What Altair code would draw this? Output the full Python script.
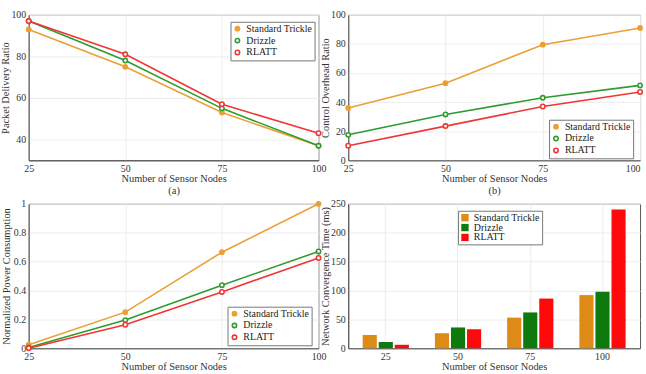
import altair as alt
import pandas as pd

series = ["Standard Trickle", "Drizzle", "RLATT"]
nodes = [25, 50, 75, 100]

pdr_st = [93, 75, 53, 37]
pdr_dr = [97, 78, 55, 37]
pdr_rl = [97, 81, 57, 43]

co_st = [36, 53, 79.5, 91]
co_dr = [17.5, 31.5, 43, 51.5]
co_rl = [10, 23.5, 37, 47]

pw_st = [0.025, 0.25, 0.665, 1.0]
pw_dr = [0.005, 0.195, 0.437, 0.67]
pw_rl = [0.0, 0.163, 0.39, 0.625]

ct_st = [23, 26, 53, 92]
ct_dr = [11, 36, 62, 98]
ct_rl = [6, 33, 86, 240]

line_colors = ["#EC9F35", "#2E9B2E", "#F03535"]
fill_colors = ["#EC9F35", "white", "white"]
bar_colors = ["#DE8A16", "#0E7A0E", "#FF0A0A"]

FONT = "Liberation Serif"


def frame(st, dr, rl):
    rows = []
    for name, vals in zip(series, [st, dr, rl]):
        for n, v in zip(nodes, vals):
            rows.append({"nodes": n, "series": name, "value": v})
    return pd.DataFrame(rows)


def mk_legend(lx, ly, sym="circle", size=None):
    kw = dict(orient="none", legendX=lx, legendY=ly, title=None, symbolType=sym,
              direction="vertical", labelFont=FONT, labelFontSize=10, labelColor="#222",
              labelFontWeight="normal",
              strokeColor="#777", fillColor="white", padding=2, rowPadding=0, labelOffset=4)
    if size is not None:
        kw["symbolSize"] = size
    return alt.Legend(**kw)


def line_panel(df, ydom, yvals, ytitle, xtitle, lx, ly, w, h, ytp=0, flush_right=False, yfmt="d"):
    leg = mk_legend(lx, ly)
    xaxis_kw = dict(values=nodes, title=xtitle, grid=True, labelFlush=False,
                    titlePadding=0, titleLineHeight=13, format="d")
    if flush_right:
        xaxis_kw["labelAlign"] = {"condition": {"test": "datum.value == 100", "value": "right"},
                                  "value": "center"}
    x = alt.X("nodes:Q", scale=alt.Scale(domain=[25, 100], nice=False),
              axis=alt.Axis(**xaxis_kw))
    y = alt.Y("value:Q", scale=alt.Scale(domain=ydom, nice=False),
              axis=alt.Axis(values=yvals, title=ytitle, grid=True, titlePadding=ytp, format=yfmt))
    color = alt.Color("series:N", sort=series,
                      scale=alt.Scale(domain=series, range=line_colors), legend=leg)
    base = alt.Chart(df)
    lines = base.mark_line(strokeWidth=1.6).encode(x=x, y=y, color=color)
    pts = base.mark_point(filled=False, opacity=1, strokeWidth=1.6).encode(
        x=x, y=y, color=color,
        fill=alt.Fill("series:N", sort=series,
                      scale=alt.Scale(domain=series, range=fill_colors), legend=leg),
        size=alt.Size("series:N", sort=series,
                      scale=alt.Scale(domain=series, range=[18, 20, 45]), legend=leg),
    )
    return alt.layer(lines, pts).properties(width=w, height=h)


pa = line_panel(frame(pdr_st, pdr_dr, pdr_rl), [30, 100], [40, 60, 80, 100],
                "Packet Delivery Ratio", ["Number of Sensor Nodes", "(a)"], 204, 7, 293, 147)
pb = line_panel(frame(co_st, co_dr, co_rl), [0, 100], [0, 20, 40, 60, 80, 100],
                "Control Overhead Ratio", ["Number of Sensor Nodes", "(b)"], 203, 106, 295, 147,
                flush_right=True)
pc = line_panel(frame(pw_st, pw_dr, pw_rl), [0, 1], [0, 0.2, 0.4, 0.6, 0.8, 1],
                "Normalized Power Consumption", "Number of Sensor Nodes", 201, 104, 293, 146,
                ytp=1.5, yfmt="~g")

dfd = frame(ct_st, ct_dr, ct_rl)
pd_ = alt.Chart(dfd).mark_bar().encode(
    x=alt.X("nodes:O", sort=nodes,
            scale=alt.Scale(paddingInner=0.36, paddingOuter=0.2),
            axis=alt.Axis(title="Number of Sensor Nodes", labelAngle=0, grid=True, titlePadding=0)),
    xOffset=alt.XOffset("series:N", sort=series, scale=alt.Scale(paddingInner=0.12, paddingOuter=0)),
    y=alt.Y("value:Q", scale=alt.Scale(domain=[0, 250], nice=False),
            axis=alt.Axis(values=[0, 50, 100, 150, 200, 250], title="Network Convergence Time (ms)",
                          grid=True, titlePadding=0)),
    color=alt.Color("series:N", sort=series, scale=alt.Scale(domain=series, range=bar_colors),
                    legend=mk_legend(111, 7, sym="square", size=55)),
).properties(width=295, height=146)

chart = alt.concat(pa, pb, pc, pd_, columns=2, spacing={"row": 44, "column": 30}).resolve_scale(
    color="independent", fill="independent", size="independent",
    x="independent", y="independent", xOffset="independent",
).resolve_legend(
    color="independent", fill="independent", size="independent",
).properties(
    bounds="flush",
    padding={"left": 0, "top": 7, "right": 0, "bottom": 0},
    background="white",
).configure(
    font=FONT,
).configure_view(
    stroke="#555", strokeWidth=1
).configure_axis(
    labelFont=FONT, titleFont=FONT, labelFontSize=10, titleFontSize=10.5,
    titleFontWeight="normal", labelColor="#333", titleColor="#333",
    domainColor="#555", gridColor="#ececec", ticks=False, labelPadding=3,
).configure_legend(
    labelFont=FONT, labelFontSize=10, symbolStrokeWidth=1.6,
)

chart.save("out.html", embed_options={"renderer": "svg", "actions": False})
